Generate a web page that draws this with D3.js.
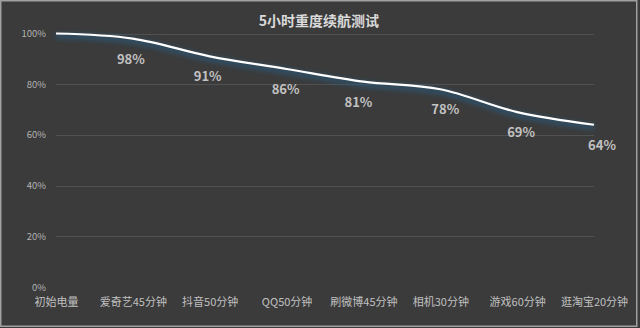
<!DOCTYPE html>
<html><head><meta charset="utf-8">
<script src="https://cdn.jsdelivr.net/npm/d3@7"></script>
<style>html,body{margin:0;padding:0;background:#3b3b3b;}svg{display:block;}</style>
</head><body>
<svg id="c" width="640" height="328"></svg>
<script>
const title = "5小时重度续航测试";
const categories = ["初始电量","爱奇艺45分钟","抖音50分钟","QQ50分钟","刷微博45分钟","相机30分钟","游戏60分钟","逛淘宝20分钟"];
const values = [100, 98, 91, 86, 81, 78, 69, 64];
const labels = ["", "98%", "91%", "86%", "81%", "78%", "69%", "64%"];
const yTicks = [0, 20, 40, 60, 80, 100];

// layout
const W = 640, H = 328;
const svg = d3.select("#c");
const font = "'Noto Sans CJK SC','Microsoft YaHei',sans-serif";
const labelNudge = [0, -2, -2, -1, -5, 5, 4, 8];

svg.append("rect").attr("x",0).attr("y",0).attr("width",W).attr("height",H).attr("fill","#3b3b3b");
svg.append("rect").attr("x",0.75).attr("y",0.75).attr("width",636).attr("height",325.5)
  .attr("fill","none").attr("stroke","#a0a0a0").attr("stroke-width",1.5);

const x = d3.scalePoint().domain(categories).range([56, 594]);
const y = d3.scaleLinear().domain([0, 100]).range([287, 33.5]);

const defs = svg.append("defs");
const f = defs.append("filter").attr("id","glow").attr("x","-10%").attr("y","-50%").attr("width","120%").attr("height","200%");
f.append("feGaussianBlur").attr("stdDeviation",2.4);

// gridlines
const grid = svg.append("g");
grid.selectAll("line").data(yTicks.filter(d=>d>0)).join("line")
  .attr("x1", x.range()[0]).attr("x2", x.range()[1])
  .attr("y1", d=>Math.round(y(d))+0.5).attr("y2", d=>Math.round(y(d))+0.5)
  .attr("stroke","#515151").attr("stroke-width",1);

// y axis
const yAxis = d3.axisLeft(y).tickValues(yTicks).tickFormat(d=>d+"%").tickSize(0).tickPadding(0);
const ya = svg.append("g").attr("transform","translate(46,0)").call(yAxis);
ya.select(".domain").remove();
ya.selectAll("text").attr("fill","#b3b3b3").style("font-family",font).style("font-size","9.5px");

// x axis
const xAxis = d3.axisBottom(x).tickSize(0).tickPadding(0);
const xa = svg.append("g").attr("transform","translate(0,298)").call(xAxis);
xa.select(".domain").remove();
xa.selectAll("text").attr("fill","#c0c0c0").style("font-family",font).style("font-size","11px");

// line
const line = d3.line().x((d,i)=>x(categories[i])).y(d=>y(d)).curve(d3.curveCatmullRom.alpha(0.5));
svg.append("path").datum(values).attr("d",line).attr("fill","none")
  .attr("stroke","#2a5b82").attr("stroke-width",6).attr("stroke-opacity",0.6)
  .attr("transform","translate(0,2.5)").attr("filter","url(#glow)");
svg.append("path").datum(values).attr("d",line).attr("fill","none")
  .attr("stroke","#ffffff").attr("stroke-width",2.2).attr("stroke-linejoin","round");

// data labels
svg.append("g").selectAll("text").data(values).join("text")
  .attr("x",(d,i)=>x(categories[i]) + labelNudge[i])
  .attr("y",d=>y(d)+20.5)
  .attr("dy","0.35em")
  .attr("text-anchor","middle")
  .attr("fill","#c2c2c2").style("font-family",font).style("font-size","13px").style("font-weight","bold")
  .text((d,i)=>labels[i]);

// title
svg.append("text").attr("x",319).attr("y",21.5).attr("dy","0.35em").attr("text-anchor","middle")
  .attr("fill","#dadada").style("font-family",font).style("font-size","14px").style("font-weight","bold")
  .text(title);
</script>
</body></html>
